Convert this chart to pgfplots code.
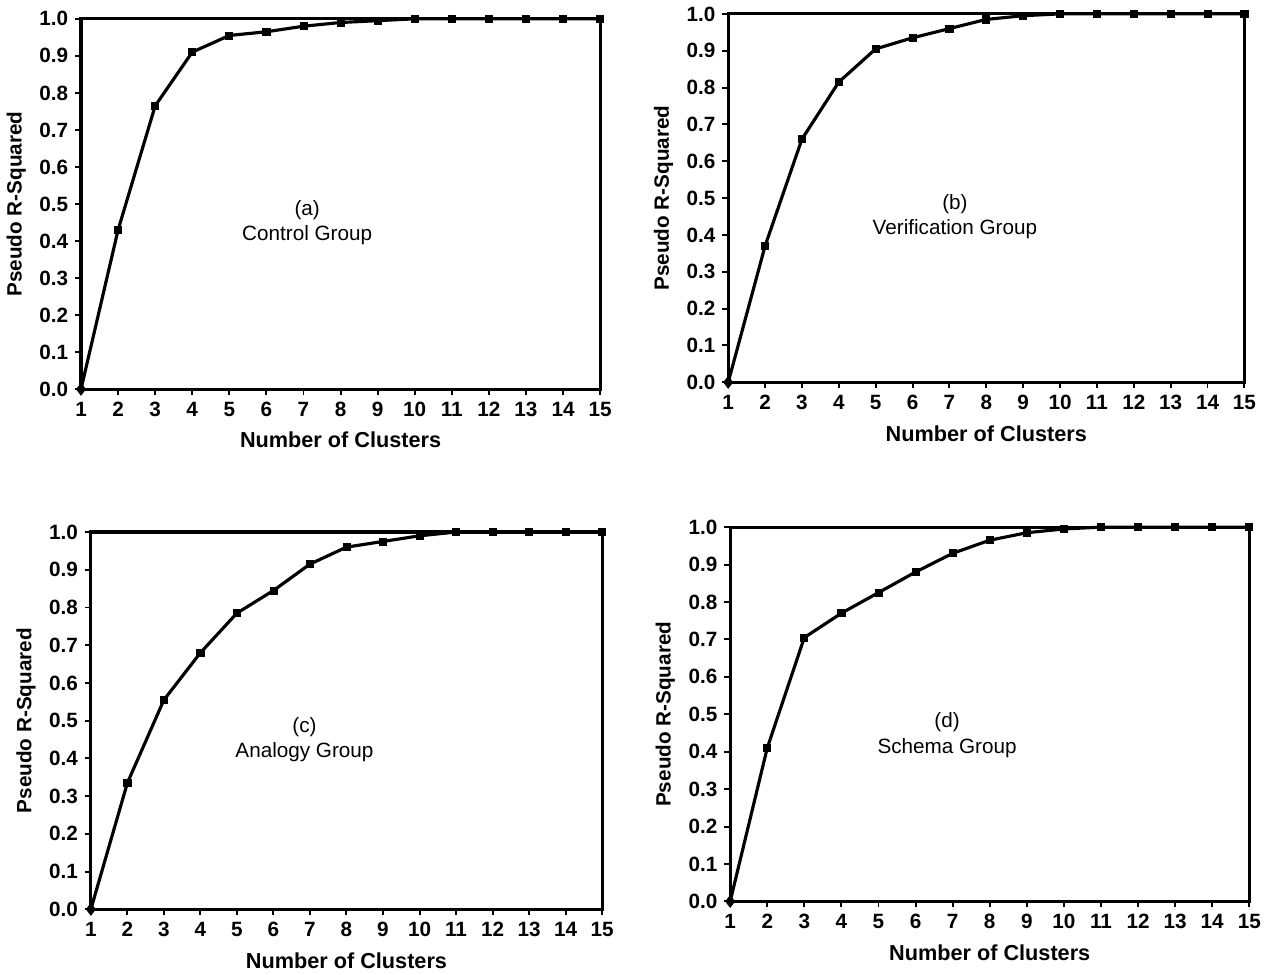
\documentclass[border=0pt]{standalone}
\usepackage{fontspec}
\setmainfont{Liberation Sans}
\usepackage{pgfplots}
\usepackage{pgfplotstable}
\pgfplotsset{compat=1.18}

% pseudo R-squared by number of clusters, one column per group
\pgfplotstableread{
k  a     b     c     d
1  0.000 0.000 0.000 0.000
2  0.430 0.370 0.335 0.410
3  0.765 0.660 0.555 0.705
4  0.910 0.815 0.680 0.770
5  0.955 0.905 0.785 0.825
6  0.965 0.935 0.845 0.880
7  0.980 0.960 0.915 0.930
8  0.990 0.985 0.960 0.965
9  0.995 0.995 0.975 0.985
10 1.000 1.000 0.990 0.995
11 1.000 1.000 1.000 1.000
12 1.000 1.000 1.000 1.000
13 1.000 1.000 1.000 1.000
14 1.000 1.000 1.000 1.000
15 1.000 1.000 1.000 1.000
}\rsq

\tikzset{grp/.style={align=center, font=\fontsize{10.5}{13}\selectfont}}

\pgfplotsset{
  panel/.style={
    scale only axis, anchor=south west,
    xmin=1, xmax=15, ymin=0, ymax=1,
    xtick={1,...,15},
    ytick={0,0.1,...,1.0},
    yticklabel style={/pgf/number format/.cd,fixed,fixed zerofill,precision=1},
    /pgf/number format/assume math mode=true,
    tick label style={font=\bfseries\fontsize{10.5}{12}\selectfont, black},
    tick align=outside, tick pos=left,
    major tick length=3pt,
    every tick/.style={black, line width=1pt},
    axis line style={black, line width=1.6pt},
    xlabel={Number of Clusters},
    ylabel={Pseudo R-Squared},
    xlabel style={font=\bfseries\fontsize{11}{13}\selectfont, yshift=-1pt},
    ylabel style={font=\bfseries\fontsize{10.5}{12}\selectfont},
    clip=false,
  },
  curve/.style={black, line width=1.6pt, mark=none},
  sq/.style={only marks, mark=square*, mark size=1.8pt, black},
  dm/.style={only marks, mark=diamond*, mark size=3pt, black},
}

\begin{document}
\begin{tikzpicture}
\path (0,0) rectangle (634.5pt,489.5pt);

% (a)
\begin{axis}[panel, at={(31.5pt,293pt)}, width=263.5pt, height=188pt]
  \addplot[curve] table[x=k,y=a] {\rsq};
  \addplot[sq] table[x=k,y=a,skip coords between index={0}{1}] {\rsq};
  \addplot[dm] table[x=k,y=a,skip coords between index={1}{15}] {\rsq};
  \node[grp] at (axis cs:7.1,0.45) {(a)\\Control Group};
\end{axis}

% (b)
\begin{axis}[panel, at={(360pt,296.5pt)}, width=262pt, height=187pt]
  \addplot[curve] table[x=k,y=b] {\rsq};
  \addplot[sq] table[x=k,y=b,skip coords between index={0}{1}] {\rsq};
  \addplot[dm] table[x=k,y=b,skip coords between index={1}{15}] {\rsq};
  \node[grp] at (axis cs:7.15,0.45) {(b)\\Verification Group};
\end{axis}

% (c)
\begin{axis}[panel, at={(36.5pt,29pt)}, width=259.5pt, height=191.5pt]
  \addplot[curve] table[x=k,y=c] {\rsq};
  \addplot[sq] table[x=k,y=c,skip coords between index={0}{1}] {\rsq};
  \addplot[dm] table[x=k,y=c,skip coords between index={1}{15}] {\rsq};
  \node[grp] at (axis cs:6.85,0.45) {(c)\\Analogy Group};
\end{axis}

% (d)
\begin{axis}[panel, at={(361pt,33pt)}, width=263.5pt, height=190pt]
  \addplot[curve] table[x=k,y=d] {\rsq};
  \addplot[sq] table[x=k,y=d,skip coords between index={0}{1}] {\rsq};
  \addplot[dm] table[x=k,y=d,skip coords between index={1}{15}] {\rsq};
  \node[grp] at (axis cs:6.85,0.445) {(d)\\Schema Group};
\end{axis}
\end{tikzpicture}
\end{document}
